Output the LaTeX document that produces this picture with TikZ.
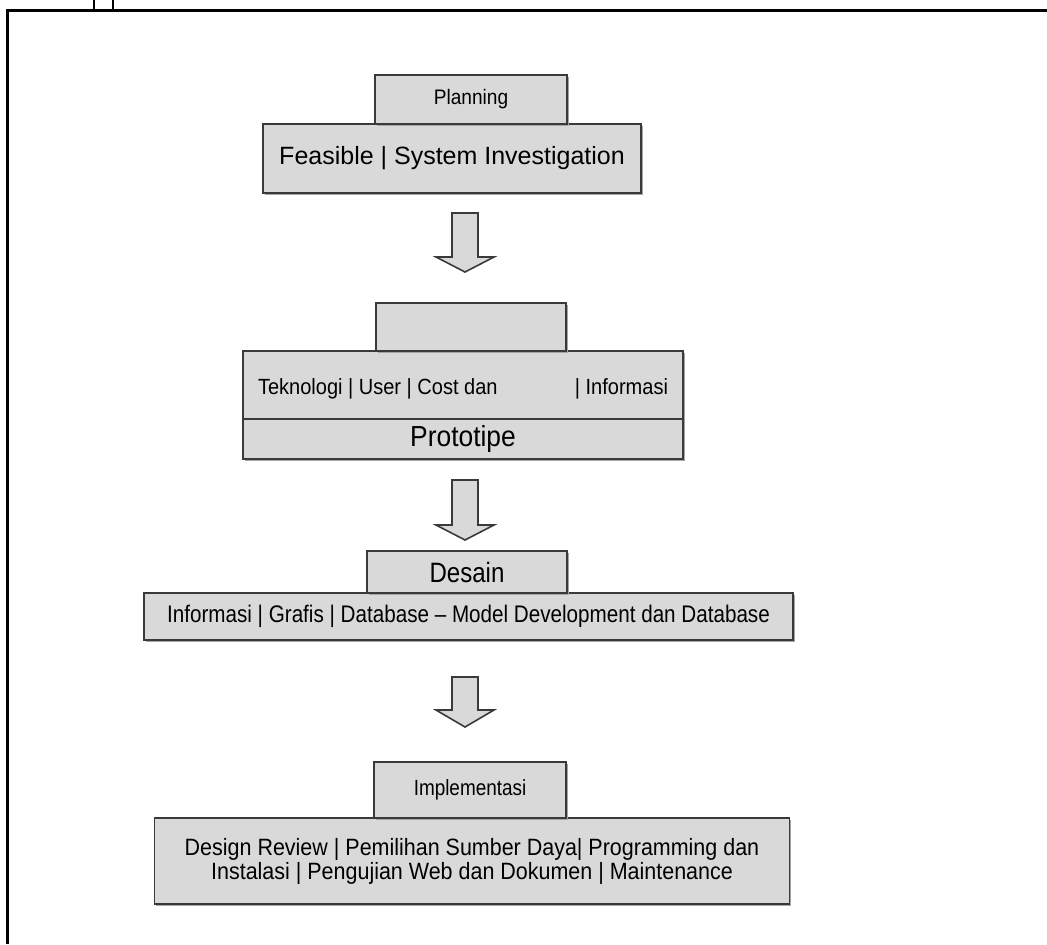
\documentclass[tikz,border=0pt]{standalone}
\usepackage{fontspec}
\setmainfont{Liberation Sans}
\newfontfamily\fnorm{Liberation Sans}
\newfontfamily\fnar[FakeStretch=0.91]{Liberation Sans}
\newfontfamily\fnarr[FakeStretch=0.86]{Liberation Sans}
\usetikzlibrary{shadows}
\definecolor{boxfill}{HTML}{D9D9D9}
\definecolor{boxline}{HTML}{3A3A3A}
\newcommand\blkarrow[4]{\draw[blockarrow] (#1-13,#2) -- (#1+13,#2) -- (#1+13,#3) -- (#1+29,#3) -- (#1,#4) -- (#1-29,#3) -- (#1-13,#3) -- cycle;}
\begin{document}
\begin{tikzpicture}[x=0.5pt,y=-0.5pt,
  box/.style={draw=boxline, fill=boxfill, line width=0.8pt, rectangle, inner sep=0pt, outer sep=0pt,
    drop shadow={shadow xshift=0.8pt, shadow yshift=-0.8pt, fill=gray!70, opacity=1}},
  lbl/.style={inner sep=0pt, outer sep=0pt},
  blockarrow/.style={draw=boxline, fill=boxfill, line width=0.8pt, line join=miter},
  frameline/.style={line width=1.5pt, black}]
\useasboundingbox (0,0) rectangle (1047,944);
% frame
\draw[frameline] (7,944) -- (7,10) -- (1047,10);
\draw[line width=1pt] (94,0) -- (94,10);
\draw[line width=1pt] (113,0) -- (113,10);

% Planning
\node[box, minimum width=189pt, minimum height=34.5pt] (feas) at (452,158.5)
  {\fnorm\fontsize{12.5}{15}\selectfont Feasible | System Investigation};
\node[box, minimum width=96pt, minimum height=24.5pt] (plan) at (471,99.5)
  {\fnar\fontsize{10.5}{12}\selectfont Planning};

\blkarrow{465}{213}{257}{272}

% Prototype block
\node[box, minimum width=220pt, minimum height=34pt] (tek) at (463,385) {};
\node[box, minimum width=220pt, minimum height=20pt] (proto) at (463,439)
  {\fnar\fontsize{14.5}{17}\selectfont Prototipe};
\node[box, minimum width=95pt, minimum height=24pt] (ptab) at (471,327) {};
\node[lbl, anchor=west] (tekl) at (258,389) {\fnar\fontsize{11}{13}\selectfont Teknologi | User | Cost dan};
\node[lbl, anchor=east] (tekr) at (668,389) {\fnar\fontsize{11}{13}\selectfont | Informasi};

\blkarrow{465}{480}{525}{540}

% Desain
\node[box, minimum width=324.5pt, minimum height=23.5pt] (des) at (468.5,616.5)
  {\fnarr\fontsize{12}{14}\selectfont Informasi | Grafis | Database – Model Development dan Database};
\node[box, minimum width=100pt, minimum height=21pt] (destab) at (467,572)
  {\fnarr\fontsize{14}{16}\selectfont Desain};

\blkarrow{465}{677}{710}{727}

% Implementasi
\node[box, minimum width=317.5pt, minimum height=43pt, align=center] (impl) at (472,861)
  {\fnar\fontsize{11.8}{16}\selectfont Design Review | Pemilihan Sumber Daya| Programming dan\\
   \fnar\fontsize{11.8}{16}\selectfont Instalasi | Pengujian Web dan Dokumen | Maintenance};
\node[box, minimum width=96pt, minimum height=28pt] (impltab) at (470,790)
  {\fnarr\fontsize{11}{13}\selectfont Implementasi};
\end{tikzpicture}
\end{document}
